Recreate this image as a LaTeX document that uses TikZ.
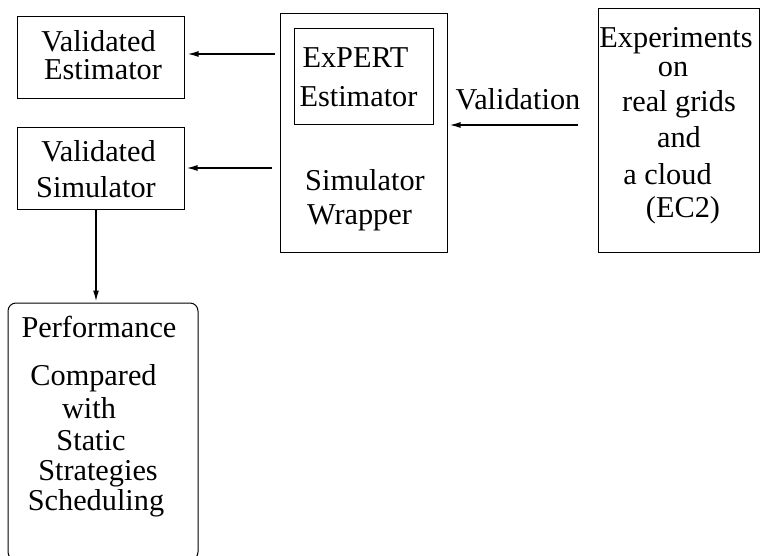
\documentclass[tikz,border=0pt]{standalone}
\usepackage{fontspec}
\setmainfont{Liberation Serif}
\usetikzlibrary{arrows.meta}
\begin{document}
\begin{tikzpicture}[x=1pt,y=-1pt,
  box/.style={draw,line width=1pt,inner sep=0pt},
  lbl/.style={anchor=base,inner sep=0pt,font=\fontsize{30.3}{31}\selectfont},
  arr/.style={line width=1.4pt,-{Latex[length=11pt,width=6pt]}}]
\useasboundingbox (0,0) rectangle (760,556);
% boxes
\node[box,minimum width=167pt,minimum height=82pt] (ve) at (100.5,58) {};
\node[box,minimum width=167pt,minimum height=82pt] (vs) at (100.5,169) {};
\node[box,minimum width=167pt,minimum height=238pt] (wrap) at (363.5,133) {};
\node[box,minimum width=139pt,minimum height=96pt] (expert) at (363.5,77) {};
\node[box,minimum width=161pt,minimum height=243pt] (exp) at (678.5,130.5) {};
\node[box,rounded corners=8pt,minimum width=190pt,minimum height=257pt] (perf) at (103,431.5) {};
% texts
\node[lbl] (t1) at (98.5,52) {Validated};
\node[lbl] (t2) at (103,80) {Estimator};
\node[lbl] (t3) at (98.5,162) {Validated};
\node[lbl] (t4) at (96,198) {Simulator};
\node[lbl] (t5) at (355.5,68) {ExPERT};
\node[lbl] (t6) at (358.5,107) {Estimator};
\node[lbl] (t7) at (365,190) {Simulator};
\node[lbl] (t8) at (359.5,224) {Wrapper};
\node[lbl] (t9) at (518,110) {Validation};
\node[lbl] (e1) at (676,48) {Experiments};
\node[lbl] (e2) at (673,77) {on};
\node[lbl] (e3) at (679,112) {real grids};
\node[lbl] (e4) at (679,148) {and};
\node[lbl] (e5) at (667.5,185) {a cloud};
\node[lbl] (e6) at (683,218) {(EC2)};
\node[lbl] (p1) at (99,337) {Performance};
\node[lbl] (p2) at (93.5,385) {Compared};
\node[lbl] (p3) at (89,418) {with};
\node[lbl] (p4) at (91,450) {Static};
\node[lbl] (p5) at (98,480) {Strategies};
\node[lbl] (p6) at (96,510) {Scheduling};
% helper coordinates
\coordinate (y54) at (0,54);
\coordinate (y168) at (0,168);
\coordinate (y125) at (0,125);
\coordinate (x96) at (96,0);
% connectors
\draw[arr,shorten <=5pt,shorten >=3pt] (wrap.west |- y54) -- (ve.east |- y54);
\draw[arr,shorten <=8pt,shorten >=2pt] (wrap.west |- y168) -- (vs.east |- y168);
\draw[arr,shorten >=1pt] (vs.south -| x96) -- (perf.north -| x96);
\draw[arr,shorten <=20pt,shorten >=2pt] (exp.west |- y125) -- (wrap.east |- y125);
\end{tikzpicture}
\end{document}
